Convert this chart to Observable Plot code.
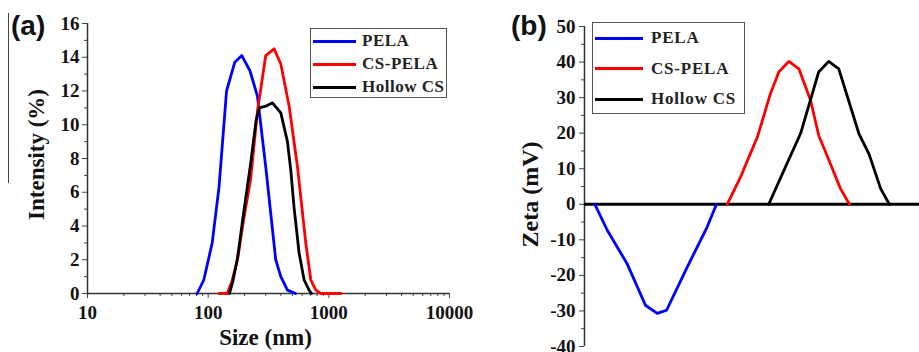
<!DOCTYPE html>
<html>
<head>
<meta charset="utf-8">
<script src="https://cdn.jsdelivr.net/npm/d3@7"></script>
<script src="https://cdn.jsdelivr.net/npm/@observablehq/plot@0.6"></script>
<style>
  body { margin: 0; background: #fff; }
  #fig { position: relative; width: 919px; height: 352px; background: #fff; overflow: hidden; }
  #fig svg { position: absolute; top: 0; overflow: visible; }
  .plabel { position: absolute; font-family: "Liberation Sans", Arial, sans-serif; font-weight: bold; font-size: 28px; line-height: 1; color: #111; }
  .legend { position: absolute; border: 1.5px solid #555; background: #fff; box-sizing: border-box; }
  .legend .row { position: absolute; left: 0; display: flex; align-items: center; font-family: "Liberation Serif", "Times New Roman", serif; font-weight: bold; font-size: 17px; color: #222; white-space: nowrap; }
  .legend .sw { height: 3px; }
</style>
</head>
<body>
<div id="fig"></div>
<script>
// ---------- data ----------
const seriesNames = ["PELA", "CS-PELA", "Hollow CS"];
const seriesColors = ["#0000ff", "#ff0000", "#000000"];

// (a) DLS size distribution
const sizePELA = [81, 92, 108, 123, 142, 166, 190, 222, 256, 300, 363, 400, 454, 530];
const intPELA  = [0, 0.8, 3.0, 6.3, 12.0, 13.7, 14.1, 13.2, 11.7, 7.5, 2.0, 1.0, 0.2, 0];
const sizeCSPELA = [123, 144, 157, 175, 196, 225, 256, 300, 352, 400, 469, 550, 644, 709, 780, 860, 1260];
const intCSPELA  = [0, 0, 0.7, 2.0, 4.3, 6.8, 10.8, 14.1, 14.5, 13.6, 11.1, 7.5, 3.0, 0.8, 0.2, 0, 0];
const sizeHollow = [150, 160, 175, 196, 225, 250, 266, 300, 341, 400, 454, 484, 515, 567, 624, 686, 720];
const intHollow  = [0, 0.7, 2.1, 4.7, 7.7, 10.3, 11.0, 11.1, 11.3, 10.7, 9.0, 7.3, 5.1, 2.4, 0.8, 0.2, 0];

const sizeTicks = [10, 100, 1000, 10000];
const intensityTicks = [0, 2, 4, 6, 8, 10, 12, 14, 16];

// (b) Zeta potential distribution (x is an unlabelled position)
const posPELA = [3.1, 6.8, 12.7, 18.2, 21.7, 24.5, 30.7, 36.6, 39.4];
const zetaPELA = [0, -7.3, -16.7, -28.4, -30.7, -29.8, -17.6, -6.4, 0];
const posCSPELA = [42.6, 46.6, 51.6, 55.5, 58.0, 61.0, 64.0, 67.5, 69.9, 73.4, 76.4, 79.1];
const zetaCSPELA = [0, 7.7, 18.9, 31.1, 37.2, 40.2, 38.1, 29.2, 19.4, 11.4, 4.4, 0];
const posHollow = [55.0, 60.0, 64.5, 69.9, 72.9, 75.9, 81.9, 84.9, 88.4, 91.0];
const zetaHollow = [0, 10.5, 19.9, 37.2, 40.2, 38.1, 19.9, 14.2, 4.4, 0];

const zetaTicks = [-40, -30, -20, -10, 0, 10, 20, 30, 40, 50];

// ---------- build tables ----------
function table(name, xs, ys) { return xs.map((x, i) => ({series: name, x, y: ys[i]})); }
const dataA = [
  ...table("PELA", sizePELA, intPELA),
  ...table("CS-PELA", sizeCSPELA, intCSPELA),
  ...table("Hollow CS", sizeHollow, intHollow)
];
const dataB = [
  ...table("PELA", posPELA, zetaPELA),
  ...table("CS-PELA", posCSPELA, zetaCSPELA),
  ...table("Hollow CS", posHollow, zetaHollow)
];

const minorSize = [];
for (const d of [10, 100, 1000]) for (let k = 2; k <= 9; k++) minorSize.push(d * k);
const minorInt = d3.range(1, 16, 2);
const minorZeta = d3.range(-35, 50, 10);

const baseStyle = {fontFamily: "'Liberation Serif', 'Times New Roman', serif", fontSize: "19px", fontWeight: "bold", color: "#111", background: "transparent", overflow: "visible"};
const colorScale = {domain: seriesNames, range: seriesColors};
const titleStyle = {fontFamily: "'Liberation Serif', 'Times New Roman', serif", fontSize: 23, fontWeight: "bold", fill: "#111", textAnchor: "middle", lineAnchor: "middle"};

const fig = document.getElementById("fig");

// ---------- panel (a) ----------
const plotA = Plot.plot({
  width: 460, height: 352,
  marginLeft: 87, marginRight: 11, marginTop: 23, marginBottom: 59,
  style: baseStyle,
  x: {type: "log", domain: [10, 10000]},
  y: {domain: [0, 16]},
  color: colorScale,
  marks: [
    Plot.axisY({ticks: intensityTicks, tickSize: 5, tickPadding: 3, tickFormat: d => String(d), label: null, stroke: "#444"}),
    Plot.axisY({ticks: minorInt, tickSize: 3, tickFormat: () => "", label: null, stroke: "#444"}),
    Plot.axisX({ticks: sizeTicks, tickSize: 5, tickPadding: 7, tickFormat: d => String(d), label: null, stroke: "#444"}),
    Plot.axisX({ticks: minorSize, tickSize: 3, tickFormat: () => "", label: null, stroke: "#444"}),
    Plot.ruleX([10], {stroke: "#333", strokeWidth: 1.5}),
    Plot.ruleY([0], {stroke: "#333", strokeWidth: 1.5}),
    Plot.line(dataA, {x: "x", y: "y", z: "series", stroke: "series", strokeWidth: 2.8, strokeLinejoin: "round"}),
    Plot.text(["Intensity (%)"], {frameAnchor: "left", dx: -51, dy: -4, rotate: -90, ...titleStyle}),
    Plot.text(["Size (nm)"], {frameAnchor: "bottom", dx: -3, dy: 44, ...titleStyle})
  ]
});
plotA.style.left = "0px";
fig.appendChild(plotA);

// ---------- panel (b) ----------
const plotB = Plot.plot({
  width: 459, height: 352,
  marginLeft: 124, marginRight: 0, marginTop: 26, marginBottom: 6,
  style: baseStyle,
  x: {domain: [0, 100], axis: null},
  y: {domain: [-40, 50]},
  color: colorScale,
  marks: [
    Plot.axisY({ticks: zetaTicks, tickSize: 5, tickPadding: 4, tickFormat: d => String(d), label: null, stroke: "#444"}),
    Plot.axisY({ticks: minorZeta, tickSize: 3, tickFormat: () => "", label: null, stroke: "#444"}),
    Plot.ruleX([0], {stroke: "#333", strokeWidth: 1.5}),
    Plot.ruleY([0], {stroke: "#000", strokeWidth: 3}),
    Plot.line(dataB, {x: "x", y: "y", z: "series", stroke: "series", strokeWidth: 2.8, strokeLinejoin: "round"}),
    Plot.text(["Zeta (mV)"], {frameAnchor: "left", dx: -54, dy: 8, rotate: -90, ...titleStyle, fontSize: 24, letterSpacing: "1px"})
  ]
});
plotB.style.left = "460px";
fig.appendChild(plotB);

// ---------- panel labels ----------
function addLabel(text, left, top) {
  const d = document.createElement("div");
  d.className = "plabel"; d.textContent = text;
  d.style.left = left + "px"; d.style.top = top + "px";
  fig.appendChild(d);
}
addLabel("(a)", 11, 12);
addLabel("(b)", 511, 12);

// cropping artifact line at far left
const art = document.createElement("div");
Object.assign(art.style, {position: "absolute", left: "8px", top: "13px", width: "1.3px", height: "170px", background: "#444"});
fig.appendChild(art);

// ---------- legends ----------
function addLegend(opts) {
  const box = document.createElement("div");
  box.className = "legend";
  Object.assign(box.style, {left: opts.left + "px", top: opts.top + "px", width: opts.width + "px", height: opts.height + "px"});
  seriesNames.forEach((name, i) => {
    const row = document.createElement("div");
    row.className = "row";
    row.style.top = (opts.row0 + i * opts.rowStep - 10) + "px";
    row.style.height = "20px";
    row.style.paddingLeft = opts.swLeft + "px";
    row.style.letterSpacing = opts.ls;
    const sw = document.createElement("div");
    sw.className = "sw";
    sw.style.width = opts.swWidth + "px";
    sw.style.background = seriesColors[i];
    sw.style.marginRight = opts.gap + "px";
    const t = document.createElement("span");
    t.textContent = name;
    row.appendChild(sw); row.appendChild(t);
    box.appendChild(row);
  });
  fig.appendChild(box);
}
addLegend({left: 310, top: 28, width: 137, height: 70, row0: 12, rowStep: 23, swLeft: 2, swWidth: 43, gap: 6, ls: "0.5px"});
addLegend({left: 592, top: 22, width: 153, height: 92, row0: 15, rowStep: 30.5, swLeft: 2, swWidth: 48, gap: 8, ls: "0.8px"});
</script>
</body>
</html>
